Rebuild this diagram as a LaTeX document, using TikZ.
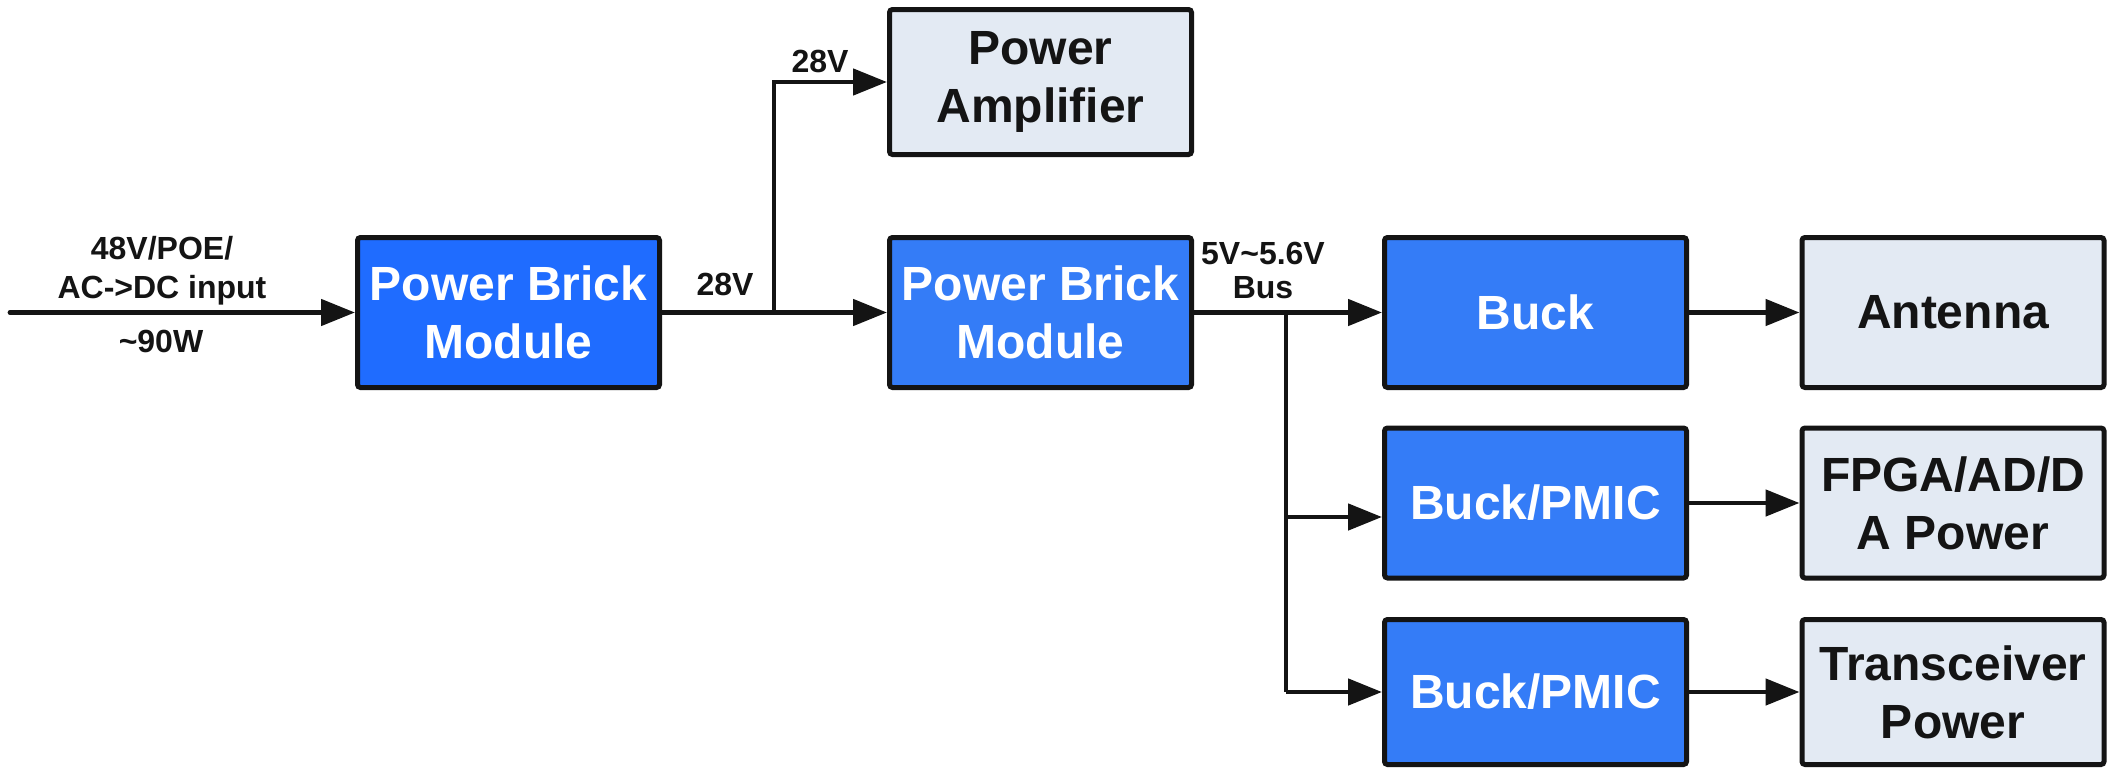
\documentclass[tikz,border=0pt]{standalone}
\usepackage{fontspec}
\setmainfont{Liberation Sans}
\usetikzlibrary{arrows.meta}
\definecolor{bluebox}{RGB}{52,124,247}
\definecolor{bluedark}{RGB}{31,108,255}
\definecolor{greybox}{RGB}{227,234,243}
\definecolor{ink}{RGB}{20,20,20}
\tikzset{
 blk/.style={draw=ink, line width=2.5pt, rounded corners=1.5pt, minimum width=151pt, minimum height=75pt, inner sep=0pt, align=center, font=\fontsize{24}{29}\selectfont\bfseries},
 bluenode/.style={blk, fill=bluebox, text=white},
 greynode/.style={blk, fill=greybox, text=ink},
 arr/.style={line width=2.4pt, draw=ink, -{Triangle[length=17pt,width=13pt]}},
 wire/.style={line width=2.4pt, draw=ink},
 lbl/.style={font=\fontsize{16}{19.5}\selectfont\bfseries, align=center, inner sep=0pt, text=ink}
}
\begin{document}
\begin{tikzpicture}[x=0.5pt,y=-0.5pt]
\useasboundingbox[fill=white] (0,0) rectangle (2110,771);
% boxes
\node[bluenode, fill=bluedark] (pb1) at (508.5,312.5) {Power Brick\\Module};
\node[greynode, minimum height=72.5pt] (pa) at (1040.5,82) {Power\\Amplifier};
\node[bluenode] (pb2) at (1040.5,312.5) {Power Brick\\Module};
\node[bluenode] (buck) at (1535.5,312.5) {Buck};
\node[bluenode] (pm1) at (1535.5,503) {Buck/PMIC};
\node[bluenode, minimum height=72.5pt] (pm2) at (1535.5,692) {Buck/PMIC};
\node[greynode] (ant) at (1953,312.5) {Antenna};
\node[greynode] (fpga) at (1953,503) {FPGA/AD/D\\A Power};
\node[greynode, minimum height=72.5pt] (trx) at (1953,692) {Transceiver\\Power};
% coordinates
\coordinate (in) at (10,312.5);
\coordinate (j1) at (774,312.5);
\coordinate (bus) at (1286,312.5);
\coordinate (b1) at (1286,517);
\coordinate (b2) at (1286,692);
% connectors
\draw[arr, line cap=round] (in) -- (pb1.west);
\draw[wire] (pb1.east) -- (j1);
\draw[arr] (j1) -- (pb2.west);
\draw[arr] (j1) |- (pa.west);
\draw[arr] (pb2.east) -- (buck.west);
\draw[wire] (bus) -- (b2);
\draw[arr] (b1) -- (b1 -| pm1.west);
\draw[arr] (b2) -- (pm2.west);
\draw[arr] (buck.east) -- (ant.west);
\draw[arr] (pm1.east) -- (fpga.west);
\draw[arr] (pm2.east) -- (trx.west);
% labels
\node[lbl] (l1) at (162,271) {48V/POE/\\AC->DC input};
\node[lbl] (l2) at (161,341) {\textasciitilde90W};
\node[lbl] (l3) at (725,284) {28V};
\node[lbl] (l4) at (820,61) {28V};
\node[lbl, font=\fontsize{16}{17}\selectfont\bfseries] (l5) at (1263,270) {5V\textasciitilde5.6V\\Bus};
\end{tikzpicture}
\end{document}
